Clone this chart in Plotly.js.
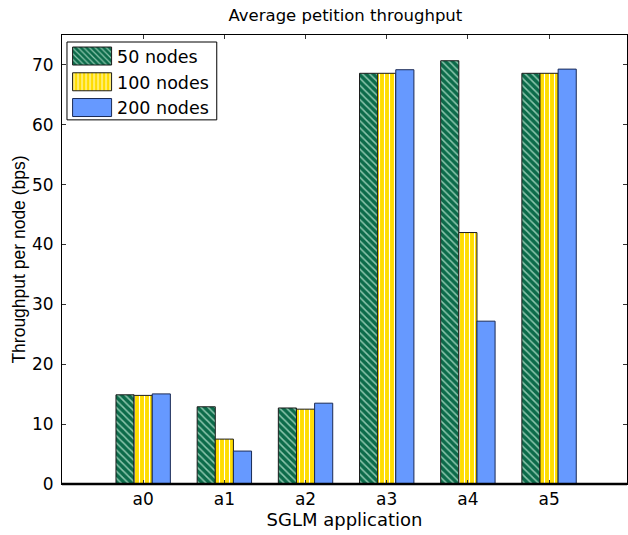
<!DOCTYPE html>
<html>
<head>
<meta charset="utf-8">
<script src="https://cdn.plot.ly/plotly-3.0.1.min.js"></script>
<style>
  html, body { margin: 0; padding: 0; background: #fff; }
  #chart { width: 628px; height: 535px; }
</style>
</head>
<body>
<div id="chart"></div>
<script>
// SGLM applications on the x axis
const apps = ['a0', 'a1', 'a2', 'a3', 'a4', 'a5'];

// Average throughput per node (bps) for each network size
const nodes50  = [14.9, 12.9, 12.7, 68.6, 70.7, 68.6];
const nodes100 = [14.8, 7.5, 12.5, 68.6, 42.0, 68.6];
const nodes200 = [15.05, 5.5, 13.5, 69.2, 27.2, 69.3];

const seriesNames = ['50 nodes', '100 nodes', '200 nodes'];
const yTicks = [0, 10, 20, 30, 40, 50, 60, 70];

const WIDE = 'DejaVu Sans, Verdana, sans-serif';
const NARROW = 'Liberation Sans, Arial, Helvetica, sans-serif';

const traces = [
  {
    type: 'bar', name: seriesNames[0], x: apps, y: nodes50,
    marker: {
      color: '#0c6b4a',
      line: { color: '#1c1c1c', width: 1 },
      pattern: { shape: '\\', fillmode: 'replace', bgcolor: '#0c6b4a', fgcolor: '#8cc6ad', size: 5, solidity: 0.3 }
    }
  },
  {
    type: 'bar', name: seriesNames[1], x: apps, y: nodes100,
    marker: {
      color: '#ffdd00',
      line: { color: '#1c1c1c', width: 1 },
      pattern: { shape: '|', fillmode: 'replace', bgcolor: '#ffdd00', fgcolor: '#ffffff', size: 5, solidity: 0.22 }
    }
  },
  {
    type: 'bar', name: seriesNames[2], x: apps, y: nodes200,
    marker: {
      color: '#6699ff',
      line: { color: '#1a2a55', width: 1 }
    }
  }
];

const layout = {
  width: 628, height: 535,
  margin: { l: 62, r: 1, t: 35, b: 51 },
  paper_bgcolor: '#ffffff', plot_bgcolor: '#ffffff',
  font: { family: WIDE, size: 17, color: '#000' },
  title: { text: 'Average petition throughput', font: { family: WIDE, size: 16.5, color: '#000' },
           x: 0.55, xanchor: 'center', y: 0.972, yanchor: 'middle' },
  barmode: 'group',
  bargap: 0.33,
  bargroupgap: 0,
  showlegend: true,
  legend: {
    x: 0.009, y: 0.993, xanchor: 'left', yanchor: 'top',
    bgcolor: 'rgba(0,0,0,0)', borderwidth: 0,
    font: { family: WIDE, size: 17.5, color: '#000' },
    itemwidth: 40, tracegroupgap: 0
  },
  xaxis: {
    type: 'category', range: [-1, 5.96],
    showline: true, linecolor: '#000', linewidth: 1, mirror: 'ticks',
    ticks: 'inside', ticklen: 4, tickcolor: '#333',
    showgrid: false, zeroline: false,
    tickfont: { family: WIDE, size: 17 },
    title: { text: 'SGLM application', font: { family: WIDE, size: 18 }, standoff: 3 }
  },
  yaxis: {
    range: [0, 75], tickvals: yTicks,
    showline: true, linecolor: '#000', linewidth: 1, mirror: 'ticks',
    ticks: 'inside', ticklen: 4, tickcolor: '#333',
    showgrid: false, zeroline: false,
    ticklabelstandoff: 4,
    tickfont: { family: WIDE, size: 17 },
    title: { text: 'Throughput per node (bps)', font: { family: NARROW, size: 17.5 }, standoff: 1 }
  },
  shapes: [
    // heavier baseline along the bottom axis
    { type: 'line', xref: 'paper', yref: 'paper', x0: 0, x1: 1, y0: 0, y1: 0, line: { color: '#000', width: 2.5 } },
    // legend frame
    { type: 'rect', xref: 'paper', yref: 'paper', layer: 'above',
      x0: 0.0088, x1: 0.2739, y0: 0.811, y1: 0.9844,
      fillcolor: '#ffffff', line: { color: '#000', width: 1 } }
  ]
};

Plotly.newPlot('chart', traces, layout, { displayModeBar: false, staticPlot: true }).then(function (gd) {
  // wide rectangular legend swatches
  gd.querySelectorAll('.legend .legendpoints path').forEach(function (p) {
    p.setAttribute('d', 'M19.5,9H-19.5V-9H19.5Z');
  });
});
</script>
</body>
</html>
